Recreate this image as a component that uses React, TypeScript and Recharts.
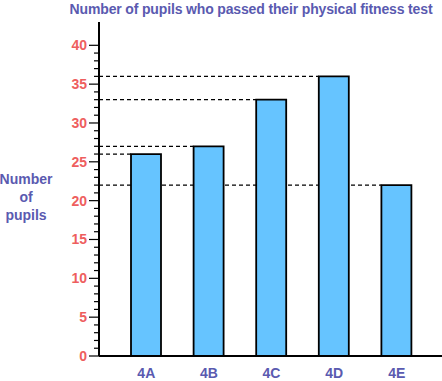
import React from 'react';
import { BarChart, Bar, XAxis, YAxis, usePlotArea } from 'recharts';

const classes = ['4A', '4B', '4C', '4D', '4E'];
const passed = [26, 27, 33, 36, 22];
const yTicks = [
  0, 1, 2, 3, 4, 5, 6, 7, 8, 9, 10, 11, 12, 13, 14, 15, 16, 17, 18, 19, 20,
  21, 22, 23, 24, 25, 26, 27, 28, 29, 30, 31, 32, 33, 34, 35, 36, 37, 38, 39, 40,
];

const data = classes.map((name, i) => ({ name, passed: passed[i] }));

const FONT = '"Liberation Sans", Arial, sans-serif';
const LABEL_BLUE = '#5a5ab0';
const TICK_RED = '#ee5e5e';

const YTick = ({ x, y, payload }: any) => {
  const v = payload.value;
  const major = v % 5 === 0;
  return (
    <g>
      <line x1={x - (major ? 10 : 5)} x2={x} y1={y} y2={y} stroke="#000" strokeWidth={1.2} />
      {major && (
        <text
          x={x - 12}
          y={y}
          dy={5}
          textAnchor="end"
          fill={TICK_RED}
          fontSize={14}
          fontWeight="bold"
          fontFamily={FONT}
        >
          {v}
        </text>
      )}
    </g>
  );
};

// dashed guide from the y axis to the left edge of each bar, drawn behind the bars
const DashGuide = (props: any) => {
  const area = usePlotArea();
  if (!area) return null;
  return (
    <line
      x1={area.x}
      x2={props.x}
      y1={props.y}
      y2={props.y}
      stroke="#000"
      strokeWidth={1.2}
      strokeDasharray="4 3"
    />
  );
};

export default function App() {
  return (
    <div style={{ position: 'absolute', left: 0, top: 0, width: 442, height: 381 }}>
      <svg
        width={442}
        height={381}
        style={{ position: 'absolute', left: 0, top: 0, pointerEvents: 'none' }}
      >
        <text
          x={251}
          y={14}
          textAnchor="middle"
          fill={LABEL_BLUE}
          fontSize={14}
          fontWeight="bold"
          fontFamily={FONT}
          letterSpacing={-0.15}
        >
          Number of pupils who passed their physical fitness test
        </text>
        <text textAnchor="middle" fill={LABEL_BLUE} fontSize={14} fontWeight="bold" fontFamily={FONT}>
          <tspan x={26} y={184}>Number</tspan>
          <tspan x={26} y={202}>of</tspan>
          <tspan x={26} y={220}>pupils</tspan>
        </text>
      </svg>
      <BarChart
        width={442}
        height={381}
        data={data}
        margin={{ top: 22, right: 0, bottom: 0, left: 0 }}
        barGap={-30}
      >
        <XAxis
          dataKey="name"
          padding={{ left: 16, right: 14 }}
          height={25}
          axisLine={{ stroke: '#000', strokeWidth: 2 }}
          tickLine={false}
          tickSize={0}
          tickMargin={12}
          tick={{ fill: LABEL_BLUE, fontSize: 14, fontWeight: 'bold', fontFamily: FONT }}
        />
        <YAxis
          width={99}
          domain={[0, 43]}
          ticks={yTicks}
          interval={0}
          allowDataOverflow
          axisLine={{ stroke: '#000', strokeWidth: 2 }}
          tickLine={false}
          tickSize={0}
          tickMargin={0}
          tick={<YTick />}
        />
        <Bar dataKey="passed" barSize={30} shape={<DashGuide />} isAnimationActive={false} />
        <Bar
          dataKey="passed"
          barSize={30}
          fill="#66c4ff"
          stroke="#000"
          strokeWidth={1.8}
          isAnimationActive={false}
        />
      </BarChart>
    </div>
  );
}
